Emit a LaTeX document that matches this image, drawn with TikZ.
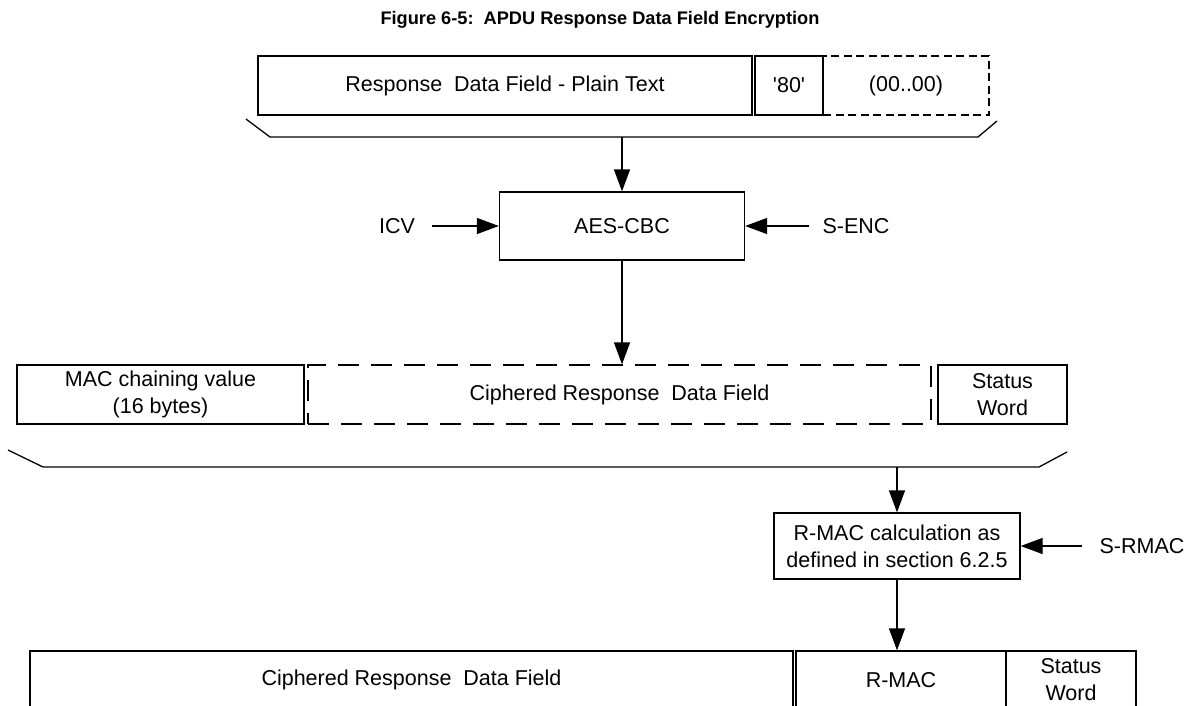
\documentclass[tikz,border=0pt]{standalone}
\usepackage{fontspec}
\setmainfont{Liberation Sans}
\usetikzlibrary{arrows.meta}

\begin{document}
\begin{tikzpicture}[x=1pt,y=-1pt,
    field/.style={draw, line width=1.3pt, inner sep=0pt, align=center,
      font=\fontsize{21.5}{27}\selectfont},
    dashfield/.style={field, dash pattern=on 21pt off 12pt},
    padfield/.style={field, line width=2pt, dash pattern=on 8pt off 4.5pt},
    label/.style={font=\fontsize{21.5}{27}\selectfont, inner sep=0pt},
    arr/.style={line width=1.3pt, -{Triangle[length=22pt,width=16pt]}},
    brace/.style={line width=1.3pt}]
  \useasboundingbox (0,0) rectangle (1202,705);
  \clip (0,0) rectangle (1202,705);

  \node (title) at (600,20) {\fontsize{18.2}{22}\selectfont\bfseries Figure 6-5:\ \ APDU Response Data Field Encryption};

  % plain response
  \node[field, minimum width=494pt, minimum height=59pt] (plain) at (505,85.5) {Response\ \ Data Field - Plain Text};
  \node[field, minimum width=68pt, minimum height=59pt] (pad80) at (789,85.5) {\textquotesingle 80\textquotesingle};
  \node[padfield, minimum width=166pt, minimum height=59pt] (padzero) at (906,85.5) {(00..00)};
  \draw[brace] (246,119) -- (270,137) -- (978,137) -- (997,121);
  \coordinate (brk1) at (622,137);

  % encryption
  \node[field, minimum width=245pt, minimum height=68pt] (aes) at (622,226) {AES-CBC};
  \node[label] (icv) at (397,226) {ICV};
  \node[label] (senc) at (856,226) {S-ENC};
  \draw[arr] (brk1) -- (brk1 |- aes.north);
  \draw[arr] (icv.east) ++(17,0) -- (aes.west);
  \draw[arr] (senc.west) ++(-13,0) -- (aes.east);

  % ciphered
  \node[field, minimum width=287pt, minimum height=59pt] (macchain) at (160.5,394.5) {MAC chaining value\\(16 bytes)};
  \node[dashfield, minimum width=623pt, minimum height=59pt] (ciph) at (619.5,394.5) {Ciphered Response\ \ Data Field};
  \node[field, minimum width=129pt, minimum height=59pt] (sw1) at (1002.5,394.5) {Status\\Word};
  \draw[arr] (aes.south) -- (aes.south |- ciph.north);
  \draw[brace] (8,450) -- (43,467) -- (1039,467) -- (1067,452);
  \coordinate (brk2) at (897,467);

  % R-MAC
  \node[field, minimum width=246pt, minimum height=66pt] (rcalc) at (897,546) {R-MAC calculation as\\defined in section 6.2.5};
  \node[label] (srmac) at (1142,546) {S-RMAC};
  \draw[arr] (brk2) -- (brk2 |- rcalc.north);
  \draw[arr] (srmac.west) ++(-17,0) -- (rcalc.east);

  % response
  \node[field, minimum width=763pt, minimum height=58pt] (ciph2) at (411.5,680) {Ciphered Response\ \ Data Field};
  \node[field, minimum width=210pt, minimum height=58pt] (rmac) at (901,680) {R-MAC};
  \node[field, minimum width=130pt, minimum height=58pt] (sw2) at (1071,680) {Status\\Word};
  \draw[arr] (rcalc.south) -- (rcalc.south |- rmac.north);
\end{tikzpicture}
\end{document}
